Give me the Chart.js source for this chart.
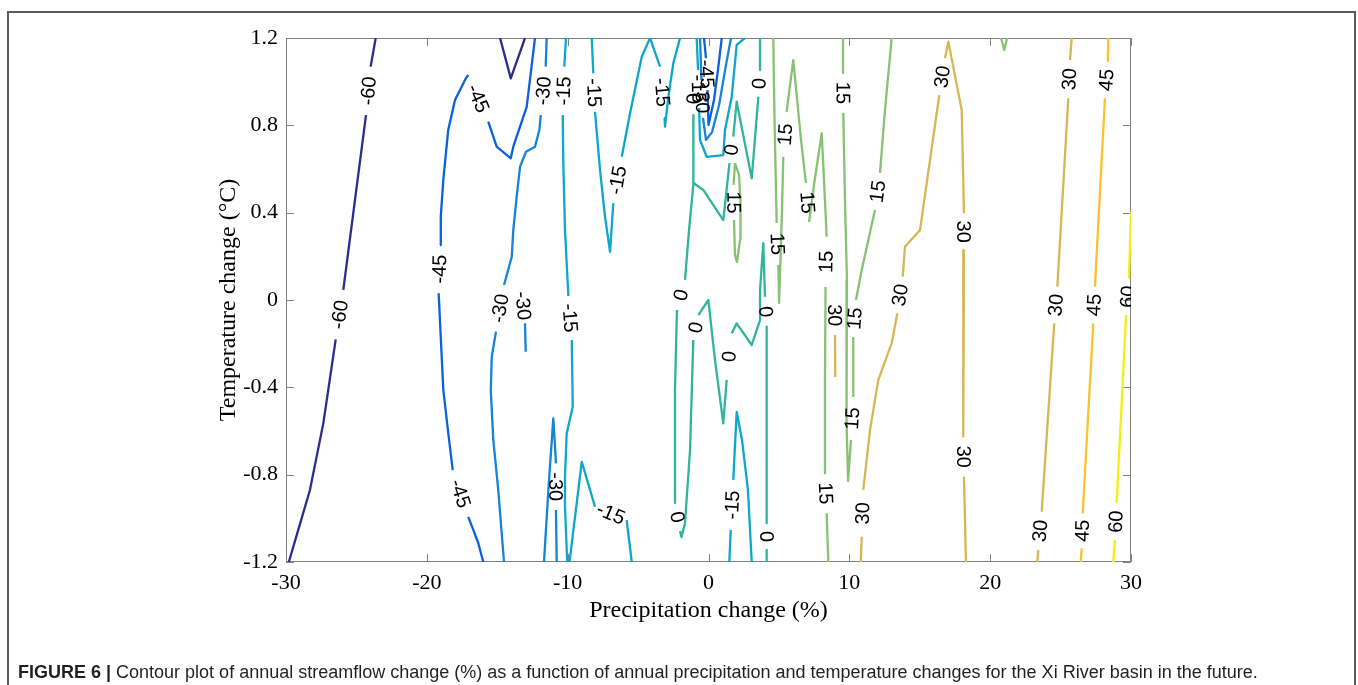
<!DOCTYPE html>
<html>
<head>
<meta charset="utf-8">
<script src="https://cdn.jsdelivr.net/npm/chart.js@4"></script>
<style>
  body { margin: 0; background: #fff; }
  #wrap { position: relative; width: 1358px; height: 685px; overflow: hidden; }
  #frame { position: absolute; left: 7px; top: 11px; width: 1349px; height: 720px; box-sizing: border-box;
           border: 2px solid #5a5a5a; border-bottom: none; }
  #caption { position: absolute; left: 18px; top: 662px; font-family: "Liberation Sans", Arial, sans-serif;
             font-size: 18px; line-height: 20px; color: #231f20; white-space: nowrap; }
  #c { position: absolute; left: 0; top: 0; }
</style>
</head>
<body>
<div id="wrap">
  <div id="frame"></div>
  <canvas id="c" width="1358" height="685"></canvas>
  <div id="caption"><b>FIGURE 6 |</b> Contour plot of annual streamflow change (%) as a function of annual precipitation and temperature changes for the Xi River basin in the future.</div>
</div>
<script>
// contour levels and line colours (parula-like)
var levels = [-60, -45, -30, -15, 0, 15, 30, 45, 60];
var levelColors = ['#2e2b8e', '#0b60e0', '#1583d6', '#0ca7cb', '#2fb59c', '#88c074', '#d7b753', '#fcc22c', '#f2ef10'];

// x ticks (precipitation change, %), y ticks (temperature change, degC)
var xTicks = [-30, -20, -10, 0, 10, 20, 30];
var yTicks = [-1.2, -0.8, -0.4, 0, 0.4, 0.8, 1.2];

// contour lines: [precip %, temp degC], null = label gap
var lineNeg60a = [[-23.63,1.2],[-23.99,1.069],null,[-24.32,0.847],[-25.93,0.046],null,[-26.47,-0.18],[-27.35,-0.565],[-28.3,-0.87],[-29.13,-1.053],[-29.8,-1.2]];
var lineNeg60b = [[-14.8,1.2],[-14.04,1.015],[-13.03,1.2]];
var lineNeg45a = [[-15.99,-1.2],[-16.35,-1.113],[-16.7,-1.053],[-17.06,-0.993],null,[-18.16,-0.779],[-18.48,-0.609],[-18.83,-0.412],[-19.06,-0.105],[-19.16,0.031],null,[-19.06,0.252],[-19.01,0.382],[-18.83,0.55],[-18.48,0.779],[-18.0,0.916],[-17.29,1.008],[-17.06,1.031],null,[-15.64,0.817],[-15.04,0.702],[-14.04,0.649],[-13.86,0.702],[-12.91,0.885],[-12.32,1.2]];
var lineNeg45b = [[-0.32,1.2],[-0.18,1.108],null,[-0.07,0.962],[0.0,0.802],[0.39,0.916],[0.67,1.053],[0.94,1.2]];
var lineNeg30a = [[-11.49,1.2],[-11.56,1.069],null,[-11.91,0.847],[-12.01,0.779],[-12.32,0.702],[-12.96,0.679],[-13.38,0.611],[-13.62,0.473],[-13.86,0.321],[-13.97,0.198],[-14.52,0.069],null,[-15.09,-0.145],[-15.39,-0.26],[-15.46,-0.412],[-15.28,-0.641],[-14.93,-0.87],[-14.52,-1.2]];
var lineNeg30b = [[-13.28,0.055],null,[-13.03,-0.107],[-12.98,-0.237]];
var lineNeg30c = [[-11.68,-1.2],[-11.37,-0.87],[-11.02,-0.542],[-10.83,-0.748],null,[-10.83,-0.962],[-10.78,-1.2]];
var lineNeg30d = [[-0.6,1.2],[-0.5,1.008],null,[-0.39,0.834],[-0.18,0.733],[0.25,0.769],[0.75,0.893],[1.24,1.076],[1.6,1.2]];
var lineNeg15a = [[-10.12,1.2],[-10.24,1.069],null,[-10.35,0.847],[-10.31,0.628],[-10.19,0.321],[-9.95,0.018],null,[-9.71,-0.183],[-9.64,-0.489],[-10.07,-0.611],[-10.19,-0.809],[-10.19,-0.947],[-10.03,-1.2]];
var lineNeg15b = [[-9.87,-1.2],[-9.0,-0.741],[-8.41,-0.87],[-8.06,-0.947],null,[-5.81,-1.008],[-5.45,-1.2]];
var lineNeg15c = [[-8.29,1.2],[-8.18,1.038],null,[-8.06,0.862],[-7.7,0.595],[-7.35,0.382],[-6.99,0.221],[-6.76,0.443],null,[-6.16,0.656],[-5.57,0.855],[-4.74,1.114],[-4.15,1.2],[-3.44,1.069],null,[-3.12,0.834],[-3.09,0.794],[-2.85,0.931],[-2.5,1.084],[-2.02,1.2]];
var lineNeg15d = [[-0.84,1.2],[-0.74,1.053],null,[-0.67,0.879],[-0.6,0.733],[-0.13,0.656],[1.05,0.664],[1.17,0.779],[1.65,0.931],[2.0,1.168],[2.59,1.2]];
var lineNeg15e = [[1.48,-1.2],[1.58,-1.053],null,[1.76,-0.824],[2.0,-0.512],[2.38,-0.641],[2.8,-0.87],[3.07,-1.2]];
var lineZeroA = [[3.66,1.2],[3.66,1.053],null,[3.54,0.931],[3.07,0.557],[2.0,0.908],[1.76,0.748],null,[1.49,0.627],[1.05,0.366],[-0.37,0.504],[-1.065,0.536],[-1.38,0.321],[-1.67,0.092],null,[-2.24,-0.046],[-2.38,-0.412],[-2.38,-0.93],null,[-2.02,-1.058],[-1.92,-1.086],[-1.67,-1.023],[-1.31,-0.687],[-1.08,-0.183],null,[-0.72,-0.069],[-0.01,0.0],[0.46,-0.275],[1.05,-0.565],[1.29,-0.366],null,[1.65,-0.152],[2.0,-0.107],[3.07,-0.206],[3.66,-0.092],[3.66,0.046],[3.89,0.26],[4.01,0.015],null,[4.13,-0.122],[4.13,-1.023],null,[4.13,-1.145],[4.13,-1.2]];
var lineZeroB = [[-1.14,0.998],null,[-1.08,0.847],[-1.08,0.641],[-1.065,0.536]];
var line15a = [[1.88,0.627],[1.78,0.527],null,[1.81,0.366],[1.88,0.206],[2.02,0.174],[2.24,0.275],[2.27,0.458],[2.17,0.573],[1.88,0.627]];
var line15b = [[4.6,1.2],[4.69,0.824],[4.84,0.353],null,[4.96,0.16],[5.01,-0.014],[5.11,0.183],[5.22,0.412],[5.31,0.656],null,[5.55,0.861],[5.79,0.985],[6.02,1.099],[6.57,0.733],[6.92,0.536],null,[7.14,0.357],[7.49,0.527],[8.04,0.764],[8.2,0.55],[8.39,0.29],null,[8.31,0.06],[8.27,-0.366],[8.27,-0.794],null,[8.39,-0.977],[8.51,-1.2]];
var line15c = [[9.55,1.2],[9.55,1.04],null,[9.57,0.857],[9.69,0.458],[9.83,0.092],[9.8,-0.229],[9.8,-0.55],[9.91,-0.829],[10.12,-0.641],null,[10.28,-0.444],[10.28,-0.169],null,[10.47,0.0],[10.88,0.137],[11.82,0.412],null,[12.18,0.582],[12.53,0.87],[13.01,1.2]];
var line15d = [[20.77,1.2],[21.0,1.145],[21.2,1.2]];
var line30a = [[10.81,-1.2],[10.88,-1.084],null,[10.99,-0.87],[11.47,-0.595],[12.06,-0.366],[13.01,-0.198],[13.41,-0.061],null,[13.79,0.107],[13.95,0.244],[15.02,0.321],[16.39,0.939],null,[16.79,1.107],[17.03,1.183],[17.98,0.87],[18.14,0.397],null,[18.14,0.229],[18.09,0.046],[18.09,-0.626],null,[18.14,-0.809],[18.28,-1.2]];
var line30b = [[8.95,0.02],null,[8.98,-0.16],[9.0,-0.353]];
var line30c = [[25.79,1.2],[25.67,1.099],null,[25.55,0.924],[24.77,0.061],null,[24.55,-0.107],[23.66,-0.97],null,[23.42,-1.145],[23.35,-1.2]];
var line45a = [[28.39,1.2],[28.35,1.091],null,[28.15,0.924],[27.44,0.061],null,[27.32,-0.107],[26.57,-0.977],null,[26.5,-1.137],[26.43,-1.2]];
var line60a = [[30,0.404],[29.86,0.099],null,[29.65,-0.069],[28.98,-0.931],null,[28.86,-1.099],[28.74,-1.2]];

var contours = [
  [-60, lineNeg60a], [-60, lineNeg60b],
  [-45, lineNeg45a], [-45, lineNeg45b],
  [-30, lineNeg30a], [-30, lineNeg30b], [-30, lineNeg30c], [-30, lineNeg30d],
  [-15, lineNeg15a], [-15, lineNeg15b], [-15, lineNeg15c], [-15, lineNeg15d], [-15, lineNeg15e],
  [0, lineZeroA], [0, lineZeroB],
  [15, line15a], [15, line15b], [15, line15c], [15, line15d],
  [30, line30a], [30, line30b], [30, line30c],
  [45, line45a],
  [60, line60a]
];

function toPoints(pts) {
  return pts.map(function (p, i) {
    return p ? { x: p[0], y: p[1] } : { x: pts[i - 1][0], y: null };
  });
}

var datasets = contours.map(function (c) {
  return {
    label: String(c[0]),
    data: toPoints(c[1]),
    borderColor: levelColors[levels.indexOf(c[0])],
    borderWidth: 2.3,
    pointRadius: 0,
    tension: 0,
    fill: false,
    spanGaps: false,
    borderJoinStyle: 'round'
  };
});

// matlab style box with inward ticks
var axesBox = {
  id: 'axesBox',
  beforeDatasetsDraw: function (chart) {
    var ctx = chart.ctx, a = chart.chartArea;
    var sx = chart.scales.x, sy = chart.scales.y;
    ctx.save();
    ctx.strokeStyle = '#808080';
    ctx.lineWidth = 1;
    ctx.beginPath();
    ctx.rect(a.left + 0.5, a.top + 0.5, a.right - a.left - 1, a.bottom - a.top - 1);
    xTicks.forEach(function (v) {
      var px = Math.round(sx.getPixelForValue(v)) + 0.5;
      ctx.moveTo(px, a.bottom); ctx.lineTo(px, a.bottom - 8);
      ctx.moveTo(px, a.top); ctx.lineTo(px, a.top + 8);
    });
    yTicks.forEach(function (v) {
      var py = Math.round(sy.getPixelForValue(v)) + 0.5;
      ctx.moveTo(a.left, py); ctx.lineTo(a.left + 8, py);
      ctx.moveTo(a.right, py); ctx.lineTo(a.right - 8, py);
    });
    ctx.stroke();
    ctx.restore();
  }
};

// clabel style text in the gaps of each line
var contourLabels = {
  id: 'contourLabels',
  afterDatasetsDraw: function (chart) {
    var ctx = chart.ctx, a = chart.chartArea;
    ctx.save();
    ctx.beginPath();
    ctx.rect(a.left, a.top, a.right - a.left, a.bottom - a.top);
    ctx.clip();
    ctx.font = '20px "Liberation Sans", Arial, sans-serif';
    ctx.fillStyle = '#000';
    ctx.textAlign = 'center';
    ctx.textBaseline = 'middle';
    chart.data.datasets.forEach(function (ds, i) {
      var pts = chart.getDatasetMeta(i).data;
      ds.data.forEach(function (d, k) {
        if (d.y !== null) return;
        var p1 = pts[k - 1], p2 = pts[k + 1];
        var ang = Math.atan2(p2.y - p1.y, p2.x - p1.x);
        if (ang > Math.PI / 2) ang -= Math.PI;
        else if (ang <= -Math.PI / 2) ang += Math.PI;
        ctx.save();
        ctx.translate((p1.x + p2.x) / 2, (p1.y + p2.y) / 2);
        ctx.rotate(ang);
        ctx.fillText(ds.label, 0, 1);
        ctx.restore();
      });
    });
    ctx.restore();
  }
};

var serif = '"Liberation Serif", "Times New Roman", serif';

var config = {
  type: 'line',
  data: { datasets: datasets },
  options: {
    responsive: false,
    animation: false,
    events: [],
    layout: { padding: { left: 0, top: 38, right: 227, bottom: 0 } },
    plugins: { legend: { display: false }, tooltip: { enabled: false } },
    scales: {
      x: {
        type: 'linear', min: -30, max: 30,
        afterBuildTicks: function (s) { s.ticks = xTicks.map(function (v) { return { value: v }; }); },
        afterFit: function (s) { s.height = 123; },
        grid: { display: false, drawTicks: false },
        border: { display: false },
        ticks: { font: { family: serif, size: 22 }, color: '#000', padding: 8, maxRotation: 0, autoSkip: false,
                 callback: function (v) { return String(v); } },
        title: { display: true, text: 'Precipitation change (%)', color: '#000',
                 font: { family: serif, size: 24 }, padding: { top: 0, bottom: 60 } }
      },
      y: {
        type: 'linear', min: -1.2, max: 1.2,
        afterBuildTicks: function (s) { s.ticks = yTicks.map(function (v) { return { value: v }; }); },
        afterFit: function (s) { s.width = 286; },
        grid: { display: false, drawTicks: false },
        border: { display: false },
        ticks: { font: { family: serif, size: 22 }, color: '#000', padding: 8, autoSkip: false,
                 callback: function (v) { return String(Math.round(v * 10) / 10); } },
        title: { display: true, text: 'Temperature change (\u00B0C)', color: '#000',
                 font: { family: serif, size: 24 }, padding: { top: 214, bottom: 0 } }
      }
    }
  },
  plugins: [axesBox, contourLabels]
};

var chart = new Chart(document.getElementById('c').getContext('2d'), config);
</script>
</body>
</html>
